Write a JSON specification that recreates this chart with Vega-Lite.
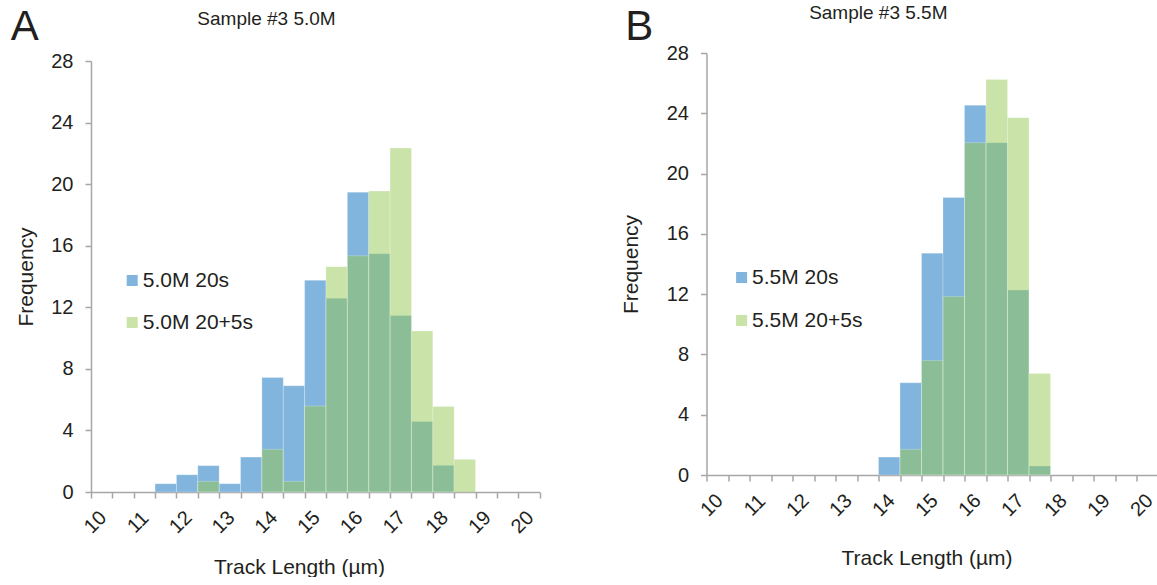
{
  "$schema": "https://vega.github.io/schema/vega-lite/v6.json",
  "padding": {"left": 10, "top": 3, "right": 0, "bottom": 0},
  "datasets": {
    "a": [
      {"series": "5.0M 20s", "length_from": 11.25, "length_to": 11.75, "freq": 0.54},
      {"series": "5.0M 20s", "length_from": 11.75, "length_to": 12.25, "freq": 1.12},
      {"series": "5.0M 20s", "length_from": 12.25, "length_to": 12.75, "freq": 1.71},
      {"series": "5.0M 20s", "length_from": 12.75, "length_to": 13.25, "freq": 0.54},
      {"series": "5.0M 20s", "length_from": 13.25, "length_to": 13.75, "freq": 2.27},
      {"series": "5.0M 20s", "length_from": 13.75, "length_to": 14.25, "freq": 7.44},
      {"series": "5.0M 20s", "length_from": 14.25, "length_to": 14.75, "freq": 6.9},
      {"series": "5.0M 20s", "length_from": 14.75, "length_to": 15.25, "freq": 13.75},
      {"series": "5.0M 20s", "length_from": 15.25, "length_to": 15.75, "freq": 12.58},
      {"series": "5.0M 20s", "length_from": 15.75, "length_to": 16.25, "freq": 19.48},
      {"series": "5.0M 20s", "length_from": 16.25, "length_to": 16.75, "freq": 15.48},
      {"series": "5.0M 20s", "length_from": 16.75, "length_to": 17.25, "freq": 11.46},
      {"series": "5.0M 20s", "length_from": 17.25, "length_to": 17.75, "freq": 4.58},
      {"series": "5.0M 20s", "length_from": 17.75, "length_to": 18.25, "freq": 1.73},
      {"series": "5.0M 20+5s", "length_from": 12.25, "length_to": 12.75, "freq": 0.69},
      {"series": "5.0M 20+5s", "length_from": 13.75, "length_to": 14.25, "freq": 2.77},
      {"series": "5.0M 20+5s", "length_from": 14.25, "length_to": 14.75, "freq": 0.69},
      {"series": "5.0M 20+5s", "length_from": 14.75, "length_to": 15.25, "freq": 5.58},
      {"series": "5.0M 20+5s", "length_from": 15.25, "length_to": 15.75, "freq": 14.64},
      {"series": "5.0M 20+5s", "length_from": 15.75, "length_to": 16.25, "freq": 15.35},
      {"series": "5.0M 20+5s", "length_from": 16.25, "length_to": 16.75, "freq": 19.55},
      {"series": "5.0M 20+5s", "length_from": 16.75, "length_to": 17.25, "freq": 22.34},
      {"series": "5.0M 20+5s", "length_from": 17.25, "length_to": 17.75, "freq": 10.46},
      {"series": "5.0M 20+5s", "length_from": 17.75, "length_to": 18.25, "freq": 5.56},
      {"series": "5.0M 20+5s", "length_from": 18.25, "length_to": 18.75, "freq": 2.12}
    ],
    "b": [
      {"series": "5.5M 20s", "length_from": 13.75, "length_to": 14.25, "freq": 1.19},
      {"series": "5.5M 20s", "length_from": 14.25, "length_to": 14.75, "freq": 6.12},
      {"series": "5.5M 20s", "length_from": 14.75, "length_to": 15.25, "freq": 14.72},
      {"series": "5.5M 20s", "length_from": 15.25, "length_to": 15.75, "freq": 18.41},
      {"series": "5.5M 20s", "length_from": 15.75, "length_to": 16.25, "freq": 24.53},
      {"series": "5.5M 20s", "length_from": 16.25, "length_to": 16.75, "freq": 22.05},
      {"series": "5.5M 20s", "length_from": 16.75, "length_to": 17.25, "freq": 12.27},
      {"series": "5.5M 20s", "length_from": 17.25, "length_to": 17.75, "freq": 0.6},
      {"series": "5.5M 20+5s", "length_from": 14.25, "length_to": 14.75, "freq": 1.7},
      {"series": "5.5M 20+5s", "length_from": 14.75, "length_to": 15.25, "freq": 7.6},
      {"series": "5.5M 20+5s", "length_from": 15.25, "length_to": 15.75, "freq": 11.85},
      {"series": "5.5M 20+5s", "length_from": 15.75, "length_to": 16.25, "freq": 22.05},
      {"series": "5.5M 20+5s", "length_from": 16.25, "length_to": 16.75, "freq": 26.25},
      {"series": "5.5M 20+5s", "length_from": 16.75, "length_to": 17.25, "freq": 23.71},
      {"series": "5.5M 20+5s", "length_from": 17.25, "length_to": 17.75, "freq": 6.74}
    ]
  },
  "spacing": 68.5,
  "bounds": "full",
  "resolve": {
    "scale": {"x": "independent", "y": "independent", "color": "independent"},
    "legend": {"color": "independent"}
  },
  "hconcat": [
    {
      "width": 448.6,
      "height": 439,
      "data": {"name": "a"},
      "layer": [
        {
          "transform": [{"filter": "datum.series == '5.0M 20s'"}],
          "mark": {"type": "bar", "stroke": "white", "strokeWidth": 0.7, "strokeOpacity": 0.35},
          "encoding": {
            "x": {
              "field": "length_from", "type": "quantitative",
              "scale": {"domain": [9.75, 20.25], "nice": false, "zero": false},
              "axis": {
                "orient": "bottom",
                "values": [9.75, 10.25, 10.75, 11.25, 11.75, 12.25, 12.75, 13.25, 13.75, 14.25, 14.75, 15.25, 15.75, 16.25, 16.75, 17.25, 17.75, 18.25, 18.75, 19.25, 19.75, 20.25],
                "labelExpr": "((datum.value + 0.25) % 1 == 0 && datum.value < 20) ? format(datum.value + 0.25, 'd') : ''",
                "labelOverlap": false, "labelFlush": false,
                "labelAngle": -45, "labelAlign": "center", "labelBaseline": "middle",
                "labelPadding": 24, "labelOffset": 4, "tickSize": 6,
                "title": "Track Length (µm)", "titleX": 208, "titleY": 81, "titleBaseline": "alphabetic", "titleAlign": "center"
              }
            },
            "x2": {"field": "length_to"},
            "y": {
              "field": "freq", "type": "quantitative",
              "scale": {"domain": [0, 28], "nice": false, "range": [439, 8]},
              "axis": {"orient": "left", "values": [0, 4, 8, 12, 16, 20, 24, 28], "tickSize": 6, "labelPadding": 12, "title": "Frequency", "titlePadding": 14}
            },
            "y2": {"datum": 0},
            "color": {
              "field": "series", "type": "nominal",
              "scale": {"domain": ["5.0M 20s", "5.0M 20+5s"], "range": ["#81b5dd", "rgba(150,199,81,0.5)"]},
              "legend": {"orient": "none", "legendX": 30.7, "legendY": 217, "title": null, "symbolType": "square", "symbolSize": 121, "symbolStrokeWidth": 0, "labelFontSize": 21, "labelOffset": 0, "rowPadding": 20, "padding": 0}
            }
          }
        },
        {
          "transform": [{"filter": "datum.series == '5.0M 20+5s'"}],
          "mark": {"type": "bar", "stroke": "white", "strokeWidth": 0.7, "strokeOpacity": 0.35},
          "encoding": {
            "x": {
              "field": "length_from", "type": "quantitative",
              "scale": {"domain": [9.75, 20.25], "nice": false, "zero": false},
              "axis": {"orient": "top", "labels": false, "ticks": false, "domain": false, "title": "Sample #3 5.0M", "titleFontSize": 19, "titleX": 175, "titleY": -29, "titleBaseline": "alphabetic", "titleAlign": "center"}
            },
            "x2": {"field": "length_to"},
            "y": {
              "field": "freq", "type": "quantitative",
              "scale": {"domain": [0, 28], "nice": false, "range": [439, 8]},
              "axis": {"orient": "right", "labels": false, "ticks": false, "domain": false, "title": "A", "titleFontSize": 42, "titleAngle": 0, "titleX": -529.3, "titleY": -14, "titleAlign": "left", "titleBaseline": "alphabetic"}
            },
            "y2": {"datum": 0},
            "color": {
              "field": "series", "type": "nominal",
              "scale": {"domain": ["5.0M 20s", "5.0M 20+5s"], "range": ["#81b5dd", "rgba(150,199,81,0.5)"]}
            }
          }
        }
      ],
      "resolve": {"axis": {"x": "independent", "y": "independent"}}
    },
    {
      "width": 451.5,
      "height": 422,
      "data": {"name": "b"},
      "layer": [
        {
          "transform": [{"filter": "datum.series == '5.5M 20s'"}],
          "mark": {"type": "bar", "stroke": "white", "strokeWidth": 0.7, "strokeOpacity": 0.35},
          "encoding": {
            "x": {
              "field": "length_from", "type": "quantitative",
              "scale": {"domain": [9.75, 20.25], "nice": false, "zero": false},
              "axis": {
                "orient": "bottom",
                "values": [9.75, 10.25, 10.75, 11.25, 11.75, 12.25, 12.75, 13.25, 13.75, 14.25, 14.75, 15.25, 15.75, 16.25, 16.75, 17.25, 17.75, 18.25, 18.75, 19.25, 19.75, 20.25],
                "labelExpr": "((datum.value + 0.25) % 1 == 0 && datum.value < 20) ? format(datum.value + 0.25, 'd') : ''",
                "labelOverlap": false, "labelFlush": false,
                "labelAngle": -45, "labelAlign": "center", "labelBaseline": "middle",
                "labelPadding": 24, "labelOffset": 5, "tickSize": 6,
                "title": "Track Length (µm)", "titleX": 220, "titleY": 89, "titleBaseline": "alphabetic", "titleAlign": "center"
              }
            },
            "x2": {"field": "length_to"},
            "y": {
              "field": "freq", "type": "quantitative",
              "scale": {"domain": [0, 28], "nice": false},
              "axis": {"orient": "left", "values": [0, 4, 8, 12, 16, 20, 24, 28], "tickSize": 6, "labelPadding": 12, "title": "Frequency", "titlePadding": 25}
            },
            "y2": {"datum": 0},
            "color": {
              "field": "series", "type": "nominal",
              "scale": {"domain": ["5.5M 20s", "5.5M 20+5s"], "range": ["#81b5dd", "rgba(150,199,81,0.5)"]},
              "legend": {"orient": "none", "legendX": 24.6, "legendY": 214, "title": null, "symbolType": "square", "symbolSize": 121, "symbolStrokeWidth": 0, "labelFontSize": 21, "labelOffset": 0, "rowPadding": 21, "padding": 0}
            }
          }
        },
        {
          "transform": [{"filter": "datum.series == '5.5M 20+5s'"}],
          "mark": {"type": "bar", "stroke": "white", "strokeWidth": 0.7, "strokeOpacity": 0.35},
          "encoding": {
            "x": {
              "field": "length_from", "type": "quantitative",
              "scale": {"domain": [9.75, 20.25], "nice": false, "zero": false},
              "axis": {"orient": "top", "labels": false, "ticks": false, "domain": false, "title": "Sample #3 5.5M", "titleFontSize": 19, "titleX": 171.3, "titleY": -35, "titleBaseline": "alphabetic", "titleAlign": "center"}
            },
            "x2": {"field": "length_to"},
            "y": {
              "field": "freq", "type": "quantitative",
              "scale": {"domain": [0, 28], "nice": false},
              "axis": {"orient": "right", "labels": false, "ticks": false, "domain": false, "title": "B", "titleFontSize": 42, "titleAngle": 0, "titleX": -533.2, "titleY": -14, "titleAlign": "left", "titleBaseline": "alphabetic"}
            },
            "y2": {"datum": 0},
            "color": {
              "field": "series", "type": "nominal",
              "scale": {"domain": ["5.5M 20s", "5.5M 20+5s"], "range": ["#81b5dd", "rgba(150,199,81,0.5)"]}
            }
          }
        }
      ],
      "resolve": {"axis": {"x": "independent", "y": "independent"}}
    }
  ],
  "config": {
    "font": "Liberation Sans",
    "view": {"stroke": null},
    "axis": {
      "labelFont": "Liberation Sans", "titleFont": "Liberation Sans",
      "labelColor": "#231f20", "titleColor": "#231f20",
      "domainColor": "#a6a6a6", "tickColor": "#a6a6a6",
      "domainWidth": 1.5, "tickWidth": 1.5, "grid": false,
      "labelFontSize": 20, "titleFontSize": 21, "titleFontWeight": "normal"
    },
    "legend": {"labelFont": "Liberation Sans", "labelColor": "#231f20"}
  }
}
